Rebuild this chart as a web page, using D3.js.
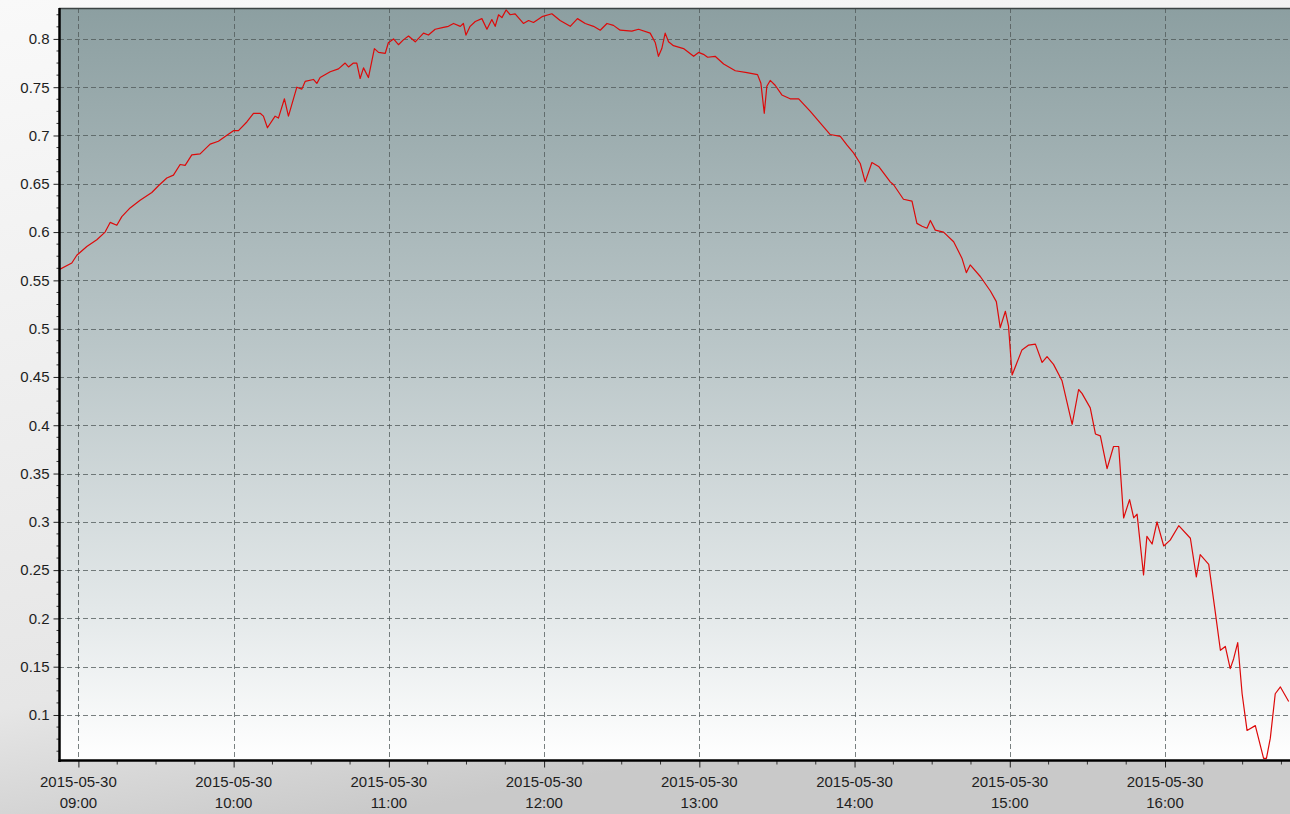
<!DOCTYPE html>
<html>
<head>
<meta charset="utf-8">
<script src="https://cdn.jsdelivr.net/npm/d3@7"></script>
<style>
  html, body { margin: 0; padding: 0; background: #ececec; overflow: hidden; }
  svg { display: block; }
  text { font-family: "Liberation Sans", Arial, sans-serif; }
</style>
</head>
<body>
<div class="container"></div>
<script>
// 采集日期
const day = "2015-05-30";

// 采集时间
const times = [
  "08:52:32", "08:57:27", "08:59:23", "09:03:15", "09:07:07", "09:10:19", "09:12:16", "09:14:51",
  "09:16:47", "09:19:59", "09:23:51", "09:28:23", "09:30:56", "09:34:11", "09:36:44", "09:39:19",
  "09:41:15", "09:43:50", "09:47:03", "09:50:55", "09:54:07", "09:56:43", "09:59:55", "10:01:52",
  "10:05:06", "10:07:40", "10:10:15", "10:11:31", "10:13:04", "10:16:02", "10:17:19", "10:19:38",
  "10:21:11", "10:24:26", "10:26:22", "10:27:38", "10:30:51", "10:32:10", "10:33:26", "10:37:19",
  "10:40:31", "10:43:06", "10:44:24", "10:46:18", "10:47:36", "10:48:54", "10:50:12", "10:52:06",
  "10:54:24", "10:56:00", "10:58:36", "10:59:48", "11:01:48", "11:03:42", "11:05:36", "11:07:36",
  "11:10:12", "11:13:24", "11:15:18", "11:17:54", "11:21:06", "11:23:00", "11:25:00", "11:27:36",
  "11:28:48", "11:29:48", "11:31:24", "11:33:24", "11:35:57", "11:37:54", "11:39:48", "11:41:06",
  "11:42:24", "11:43:42", "11:45:18", "11:46:54", "11:48:48", "11:52:00", "11:54:00", "11:55:54",
  "11:59:12", "12:03:00", "12:06:12", "12:10:06", "12:12:54", "12:15:54", "12:19:06", "12:21:42",
  "12:24:18", "12:26:48", "12:29:24", "12:33:54", "12:36:30", "12:41:00", "12:43:00", "12:44:12",
  "12:45:30", "12:46:48", "12:48:06", "12:50:00", "12:53:54", "12:57:48", "12:59:42", "13:01:36",
  "13:03:12", "13:06:06", "13:09:24", "13:13:54", "13:18:24", "13:22:30", "13:23:48", "13:25:06",
  "13:26:06", "13:27:24", "13:29:18", "13:31:54", "13:35:06", "13:38:24", "13:42:54", "13:46:42",
  "13:50:36", "13:54:30", "13:57:06", "13:59:36", "14:02:12", "14:04:06", "14:06:42", "14:09:18",
  "14:13:48", "14:15:06", "14:18:54", "14:22:12", "14:24:06", "14:26:06", "14:28:00", "14:29:18",
  "14:31:12", "14:34:24", "14:38:18", "14:41:30", "14:43:12", "14:44:42", "14:48:36", "14:52:30",
  "14:54:48", "14:56:18", "14:58:18", "14:59:30", "15:00:54", "15:04:42", "15:07:18", "15:09:54",
  "15:12:30", "15:14:24", "15:16:54", "15:20:12", "15:24:06", "15:26:36", "15:27:54", "15:31:06",
  "15:33:06", "15:35:00", "15:37:36", "15:40:06", "15:42:06", "15:44:00", "15:46:18", "15:47:54",
  "15:49:12", "15:51:42", "15:53:00", "15:55:00", "15:56:54", "15:59:30", "16:02:00", "16:05:18",
  "16:09:48", "16:12:06", "16:13:36", "16:16:54", "16:19:24", "16:21:24", "16:23:18", "16:25:12",
  "16:26:30", "16:28:06", "16:29:48", "16:31:42", "16:34:54", "16:38:06", "16:39:12", "16:40:42",
  "16:42:36", "16:44:36", "16:47:48"
];

// 对应数值
const values = [
  0.561, 0.568, 0.576, 0.585, 0.592, 0.600, 0.610, 0.607,
  0.616, 0.625, 0.633, 0.641, 0.648, 0.656, 0.659, 0.670,
  0.669, 0.680, 0.681, 0.691, 0.694, 0.699, 0.705, 0.705,
  0.714, 0.723, 0.723, 0.720, 0.708, 0.720, 0.718, 0.738,
  0.720, 0.750, 0.748, 0.756, 0.758, 0.754, 0.760, 0.766,
  0.769, 0.775, 0.771, 0.775, 0.775, 0.759, 0.770, 0.760,
  0.790, 0.786, 0.785, 0.796, 0.800, 0.794, 0.799, 0.803,
  0.797, 0.806, 0.804, 0.810, 0.812, 0.813, 0.816, 0.813,
  0.816, 0.804, 0.813, 0.818, 0.821, 0.810, 0.820, 0.813,
  0.825, 0.822, 0.830, 0.825, 0.826, 0.816, 0.819, 0.817,
  0.823, 0.826, 0.819, 0.813, 0.821, 0.816, 0.813, 0.809,
  0.816, 0.814, 0.809, 0.808, 0.810, 0.806, 0.796, 0.782,
  0.790, 0.806, 0.797, 0.793, 0.790, 0.782, 0.786, 0.784,
  0.781, 0.782, 0.774, 0.767, 0.765, 0.763, 0.754, 0.723,
  0.751, 0.757, 0.752, 0.742, 0.738, 0.738, 0.725, 0.713,
  0.701, 0.699, 0.690, 0.682, 0.671, 0.652, 0.672, 0.668,
  0.652, 0.649, 0.634, 0.632, 0.609, 0.606, 0.604, 0.612,
  0.602, 0.600, 0.590, 0.573, 0.558, 0.566, 0.554, 0.539,
  0.528, 0.501, 0.518, 0.503, 0.452, 0.478, 0.483, 0.484,
  0.465, 0.471, 0.463, 0.446, 0.401, 0.437, 0.433, 0.418,
  0.391, 0.389, 0.355, 0.378, 0.378, 0.304, 0.323, 0.304,
  0.308, 0.245, 0.285, 0.277, 0.300, 0.275, 0.281, 0.296,
  0.283, 0.243, 0.266, 0.256, 0.207, 0.167, 0.171, 0.148,
  0.158, 0.175, 0.122, 0.084, 0.089, 0.055, 0.055, 0.076,
  0.122, 0.129, 0.114
];

// 坐标轴范围与刻度
const timeRange = ["08:52:30", "16:48:30"];
const hourTicks = ["09:00", "10:00", "11:00", "12:00", "13:00", "14:00", "15:00", "16:00"];
const valueRange = [0.0534, 0.832];
const valueTicks = [0.1, 0.15, 0.2, 0.25, 0.3, 0.35, 0.4, 0.45, 0.5, 0.55, 0.6, 0.65, 0.7, 0.75, 0.8];

const W = 1290, H = 814;
const plot = { left: 59, right: 1290.5, top: 8, bottom: 760 };

const parse = d3.timeParse("%Y-%m-%d %H:%M:%S");
const toDate = t => parse(`${day} ${t.length === 5 ? t + ":00" : t}`);

const data = times.map((t, i) => ({ t: toDate(t), v: values[i] }));

const svg = d3.select(".container")
  .append("svg")
  .attr("width", W)
  .attr("height", H);

const defs = svg.append("defs");

// 外框背景渐变
const bgGrad = defs.append("linearGradient")
  .attr("id", "bgGrad")
  .attr("x1", 0).attr("y1", 0).attr("x2", 0.3).attr("y2", 1);
bgGrad.append("stop").attr("offset", 0).attr("stop-color", "#f9f9f9");
bgGrad.append("stop").attr("offset", 0.8).attr("stop-color", "#e6e6e6");
bgGrad.append("stop").attr("offset", 1).attr("stop-color", "#c9c9c9");

// 绘图区渐变
const plotGrad = defs.append("linearGradient")
  .attr("id", "plotGrad")
  .attr("x1", 0).attr("y1", 0).attr("x2", 0).attr("y2", 1);
plotGrad.append("stop").attr("offset", 0).attr("stop-color", "#8c9fa1");
plotGrad.append("stop").attr("offset", 0.45).attr("stop-color", "#bac6c8");
plotGrad.append("stop").attr("offset", 0.8).attr("stop-color", "#e3e8e9");
plotGrad.append("stop").attr("offset", 1).attr("stop-color", "#ffffff");

defs.append("clipPath").attr("id", "clip")
  .append("rect")
  .attr("x", plot.left).attr("y", plot.top)
  .attr("width", plot.right - plot.left).attr("height", plot.bottom - plot.top);

svg.append("rect")
  .attr("width", W).attr("height", H)
  .attr("fill", "url(#bgGrad)");

svg.append("rect")
  .attr("x", plot.left).attr("y", plot.top)
  .attr("width", plot.right - plot.left).attr("height", plot.bottom - plot.top)
  .attr("fill", "url(#plotGrad)");

// 比例尺
const x = d3.scaleTime()
  .domain(timeRange.map(toDate))
  .range([plot.left, plot.right]);

const y = d3.scaleLinear()
  .domain(valueRange)
  .range([plot.bottom, plot.top]);

const hourDates = hourTicks.map(toDate);
const quarterDates = d3.timeMinute.every(15).range(x.domain()[0], x.domain()[1]);
const minorValues = d3.range(0.0625, 0.832, 0.0125);

// 网格线
const grid = svg.append("g")
  .attr("stroke", "#4e5757")
  .attr("stroke-opacity", 0.75)
  .attr("stroke-width", 1)
  .attr("stroke-dasharray", "5,3");

grid.selectAll(".hgrid")
  .data(valueTicks)
  .enter().append("line")
  .attr("class", "hgrid")
  .attr("x1", plot.left).attr("x2", plot.right)
  .attr("y1", d => Math.round(y(d)) + 0.5)
  .attr("y2", d => Math.round(y(d)) + 0.5);

grid.selectAll(".vgrid")
  .data(hourDates)
  .enter().append("line")
  .attr("class", "vgrid")
  .attr("y1", plot.top).attr("y2", plot.bottom)
  .attr("x1", d => Math.round(x(d)) + 0.5)
  .attr("x2", d => Math.round(x(d)) + 0.5);

// 曲线
const line = d3.line()
  .x(d => x(d.t))
  .y(d => y(d.v));

svg.append("path")
  .datum(data)
  .attr("clip-path", "url(#clip)")
  .attr("d", line)
  .attr("fill", "none")
  .attr("stroke", "#dd0a0a")
  .attr("stroke-width", 1.2)
  .attr("stroke-linejoin", "round");

// 顶部边框
svg.append("line")
  .attr("x1", plot.left).attr("x2", W)
  .attr("y1", plot.top + 0.5).attr("y2", plot.top + 0.5)
  .attr("stroke", "#3c4444")
  .attr("stroke-width", 1.5);

// Y 轴
const yAxis = svg.append("g")
  .attr("transform", `translate(${plot.left + 0.5},0)`)
  .call(d3.axisLeft(y).tickValues(valueTicks).tickSize(6).tickPadding(4)
    .tickFormat(d => String(+d.toFixed(2))))
  .call(g => g.select(".domain").remove())
  .call(g => g.selectAll(".tick line").attr("stroke", "#222"))
  .call(g => g.selectAll(".tick text")
    .style("font-size", "15px")
    .attr("fill", "#1e1e1e"));

yAxis.selectAll(".minor")
  .data(minorValues.filter(v => !valueTicks.some(t => Math.abs(t - v) < 1e-6)))
  .enter().append("line")
  .attr("class", "minor")
  .attr("x1", -3).attr("x2", 0)
  .attr("y1", d => y(d)).attr("y2", d => y(d))
  .attr("stroke", "#333");

// X 轴
const xAxis = svg.append("g")
  .attr("transform", `translate(0,${plot.bottom + 0.5})`)
  .call(d3.axisBottom(x).tickValues(hourDates).tickSize(7).tickFormat(""))
  .call(g => g.select(".domain").remove())
  .call(g => g.selectAll(".tick line").attr("stroke", "#222"));

xAxis.selectAll(".minor")
  .data(quarterDates.filter(d => d.getMinutes() !== 0))
  .enter().append("line")
  .attr("class", "minor")
  .attr("x1", d => x(d)).attr("x2", d => x(d))
  .attr("y1", 0).attr("y2", 4)
  .attr("stroke", "#333");

const xLabels = xAxis.selectAll(".xlabel")
  .data(hourDates)
  .enter().append("text")
  .attr("class", "xlabel")
  .attr("text-anchor", "middle")
  .attr("fill", "#1e1e1e")
  .style("font-size", "15px");

xLabels.append("tspan")
  .attr("x", d => x(d))
  .attr("y", 26)
  .text(d3.timeFormat("%Y-%m-%d"));

xLabels.append("tspan")
  .attr("x", d => x(d))
  .attr("y", 47)
  .text(d3.timeFormat("%H:%M"));

// 坐标轴主线
svg.append("line")
  .attr("x1", plot.left + 0.5).attr("x2", plot.left + 0.5)
  .attr("y1", plot.top).attr("y2", plot.bottom + 2)
  .attr("stroke", "#000")
  .attr("stroke-width", 2.5);

svg.append("line")
  .attr("x1", plot.left - 0.5).attr("x2", W)
  .attr("y1", plot.bottom + 0.5).attr("y2", plot.bottom + 0.5)
  .attr("stroke", "#000")
  .attr("stroke-width", 2.5);
</script>
</body>
</html>
